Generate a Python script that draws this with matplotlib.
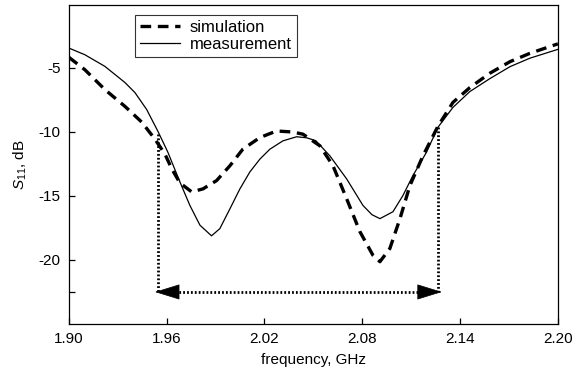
import matplotlib
matplotlib.use("Agg")
import matplotlib.pyplot as plt

plt.rcParams['font.family'] = ['Liberation Sans', 'DejaVu Sans']
plt.rcParams['mathtext.fontset'] = 'custom'
plt.rcParams['mathtext.rm'] = 'Liberation Sans'
plt.rcParams['mathtext.it'] = 'Liberation Sans:italic'

meas_f = [1.900, 1.9098, 1.9221, 1.9344, 1.9405, 1.9477, 1.9546, 1.9607, 1.9681,
          1.9742, 1.9804, 1.9875, 1.9926, 1.9988, 2.0049, 2.0110, 2.0172, 2.0233,
          2.0313, 2.0397, 2.0458, 2.0515, 2.0601, 2.0704, 2.0804, 2.0859, 2.0908,
          2.0988, 2.1049, 2.1110, 2.1194, 2.1264, 2.1356, 2.1460, 2.1583, 2.1706,
          2.1828, 2.2000]
meas_db = [-3.47, -3.99, -4.90, -6.16, -6.94, -8.26, -9.96, -11.59, -13.91,
           -15.74, -17.29, -18.12, -17.56, -16.01, -14.46, -13.14, -12.13, -11.36,
           -10.71, -10.39, -10.47, -10.70, -11.88, -13.68, -15.75, -16.47, -16.78,
           -16.24, -14.98, -13.43, -11.59, -9.65, -8.10, -6.86, -5.85, -4.92,
           -4.26, -3.57]

sim_f = [1.900, 1.9098, 1.9221, 1.9344, 1.9448, 1.9528, 1.9589, 1.9632, 1.9681,
         1.9753, 1.9822, 1.9906, 1.9988, 2.0067, 2.0172, 2.0274, 2.0374, 2.0436,
         2.0540, 2.0620, 2.0704, 2.0785, 2.0865, 2.0908, 2.0969, 2.1031, 2.1092,
         2.1172, 2.1264, 2.1356, 2.1460, 2.1583, 2.1706, 2.1828, 2.2000]
sim_db = [-4.19, -5.16, -6.71, -8.02, -9.26, -10.58, -11.74, -12.91, -13.99,
          -14.69, -14.46, -13.81, -12.65, -11.36, -10.45, -9.94, -10.02, -10.19,
          -11.10, -12.65, -15.23, -17.79, -19.63, -20.14, -19.11, -16.78, -14.20,
          -11.88, -9.57, -7.71, -6.55, -5.43, -4.53, -3.88, -3.14]

band_lo, band_hi = 1.9548, 2.1264
band_lo_top, band_hi_top = -10.2, -9.6
arrow_level = -22.5
arrow_tip_lo, arrow_tip_hi = 1.9528, 2.1288

xticks = [1.90, 1.96, 2.02, 2.08, 2.14, 2.20]
xticklabels = ['1.90', '1.96', '2.02', '2.08', '2.14', '2.20']
yticks = [-5, -10, -15, -20, -22.5]
yticklabels = ['-5', '-10', '-15', '-20', '']

fig = plt.figure(figsize=(5.74, 3.75), dpi=100)
ax = fig.add_axes([0.120, 0.136, 0.852, 0.851])

ax.plot(sim_f, sim_db, color='black', lw=2.4, linestyle=(0, (3.2, 2.0)),
        label='simulation', solid_joinstyle='round')
ax.plot(meas_f, meas_db, color='black', lw=0.9, label='measurement',
        solid_joinstyle='round')

dot = (0, (0.65, 0.75))
ax.plot([band_lo, band_lo], [band_lo_top, arrow_level], color='black', lw=2.0, linestyle=dot)
ax.plot([band_hi, band_hi], [band_hi_top, arrow_level], color='black', lw=2.0, linestyle=dot)
ax.plot([arrow_tip_lo + 0.01, arrow_tip_hi - 0.01], [arrow_level, arrow_level],
        color='black', lw=2.0, linestyle=dot)
for tip, tail in [(arrow_tip_lo, arrow_tip_lo + 0.012), (arrow_tip_hi, arrow_tip_hi - 0.012)]:
    ax.annotate('', xy=(tip, arrow_level), xytext=(tail, arrow_level),
                arrowprops=dict(arrowstyle='-|>,head_length=0.55,head_width=0.17',
                                mutation_scale=30, color='black', lw=0.5,
                                shrinkA=0, shrinkB=0))

ax.set_xlim(1.90, 2.20)
ax.set_ylim(-25, -0.1)
ax.set_xticks(xticks)
ax.set_xticklabels(xticklabels)
ax.set_yticks(yticks)
ax.set_yticklabels(yticklabels)
ax.tick_params(direction='in', length=4, width=0.9, labelsize=11, pad=6)
for s in ax.spines.values():
    s.set_linewidth(0.9)

ax.set_xlabel('frequency, GHz', fontsize=11, labelpad=5)
ax.set_ylabel('$S_{11}$, dB', fontsize=11, labelpad=7)

leg = ax.legend(loc='upper left', bbox_to_anchor=(0.135, 0.969), borderaxespad=0,
                frameon=True, fancybox=False, fontsize=12, handlelength=2.4,
                borderpad=0.3, labelspacing=0.15, handletextpad=0.6)
leg.get_frame().set_edgecolor('black')
leg.get_frame().set_linewidth(0.8)

fig.savefig('out.png', dpi=100)
